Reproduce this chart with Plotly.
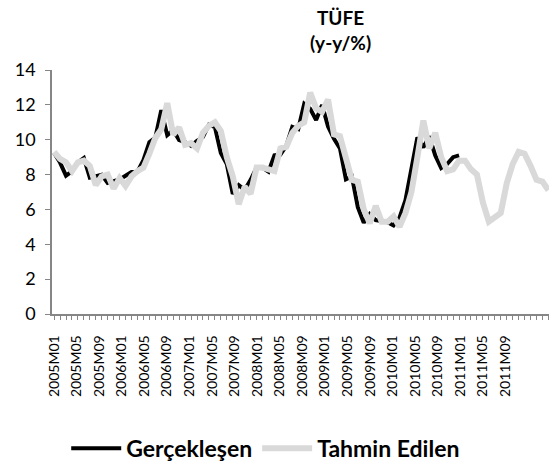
import plotly.graph_objects as go

# monthly series, 2005M01 onwards
months = [f"{y}M{m:02d}" for y in range(2005, 2012) for m in range(1, 13)]

gerceklesen = [
    9.24, 8.69, 7.94, 8.18, 8.70, 8.95, 7.82, 7.91, 7.99, 7.52, 7.61, 7.72,
    7.93, 8.15, 8.16, 8.83, 9.86, 10.12, 11.69, 10.26, 10.55, 9.98, 9.86, 9.65,
    9.93, 10.16, 10.86, 10.72, 9.23, 8.60, 6.90, 7.39, 7.12, 7.70, 8.40, 8.39,
    8.17, 9.10, 9.15, 9.66, 10.74, 10.61, 12.06, 11.77, 11.13, 11.99, 10.76, 10.06,
    9.50, 7.73, 7.89, 6.13, 5.24, 5.73, 5.39, 5.33, 5.27, 5.08, 5.53, 6.53,
    8.19, 10.13, 9.56, 10.19, 9.10, 8.37, 8.60, 9.00, 9.10,
]

tahmin = [
    9.3, 8.9, 8.7, 8.2, 8.7, 8.8, 8.5, 7.4, 7.9, 8.0, 7.2, 7.8,
    7.35, 7.9, 8.2, 8.4, 9.2, 10.1, 10.6, 12.1, 10.3, 10.7, 9.7, 9.8,
    9.5, 10.4, 10.8, 11.0, 10.5, 9.0, 7.9, 6.3, 7.3, 6.9, 8.4, 8.4,
    8.3, 8.2, 9.5, 9.6, 10.4, 10.8, 11.0, 12.7, 11.8, 11.6, 12.3, 10.3,
    10.2, 9.0, 7.7, 7.6, 6.0, 5.2, 6.2, 5.3, 5.3, 5.6, 5.0, 5.8,
    7.0, 9.0, 11.1, 9.5, 10.4, 9.0, 8.2, 8.3, 8.8, 8.8, 8.3, 8.0,
    6.4, 5.3, 5.5, 5.8, 7.5, 8.6, 9.3, 9.2, 8.5, 7.7, 7.6, 7.1,
]

tick_labels = months[0:81:4]  # 2005M01 ... 2011M09
LABEL_STEP = 3.79  # spacing of labels as drawn in the source chart

FONT = "Lato"

fig = go.Figure()

fig.add_trace(go.Scatter(
    x=list(range(len(gerceklesen))),
    y=gerceklesen,
    mode='lines',
    name='Gerçekleşen',
    line=dict(color='black', width=4),
))

fig.add_trace(go.Scatter(
    x=list(range(len(tahmin))),
    y=tahmin,
    mode='lines',
    name='Tahmin Edilen',
    line=dict(color='#d9d9d9', width=6),
))

fig.add_annotation(
    text="<b>TÜFE<br>(y-y/%)</b>",
    xref='paper', yref='paper',
    x=0.58, y=1.163,
    xanchor='center', yanchor='middle',
    showarrow=False,
    font=dict(family=FONT, size=19, color='black'),
)

fig.update_layout(
    width=549,
    height=470,
    margin=dict(l=52, r=0, t=70, b=154),
    plot_bgcolor='white',
    paper_bgcolor='white',
    font=dict(family=FONT, color='black'),
    showlegend=True,
    legend=dict(
        orientation='h',
        x=0.43, y=-0.55,
        xanchor='center', yanchor='middle',
        font=dict(family=FONT, size=23, color='black', weight='bold'),
        itemwidth=50,
        tracegroupgap=0,
    ),
    xaxis=dict(
        range=[-0.35, 83.1],
        tickmode='array',
        tickvals=[k * LABEL_STEP for k in range(len(tick_labels))],
        ticktext=tick_labels,
        tickangle=-90,
        tickfont=dict(family=FONT, size=14, color='black'),
        ticks='',
        showgrid=False,
        zeroline=False,
        showline=True,
        linecolor='#868686',
        linewidth=1.5,
        minor=dict(ticks='outside', tick0=0, dtick=1, ticklen=4,
                   tickcolor='#868686', showgrid=False),
        ticklabelstandoff=14,
        automargin=False,
    ),
    yaxis=dict(
        range=[0, 14],
        tickvals=[0, 2, 4, 6, 8, 10, 12, 14],
        tickfont=dict(family=FONT, size=18, color='black'),
        ticks='outside',
        ticklen=5,
        tickcolor='#868686',
        showgrid=False,
        zeroline=False,
        showline=True,
        linecolor='#868686',
        linewidth=1.5,
        ticklabelstandoff=6,
        automargin=False,
    ),
)

# page body has a default margin; drop it so the chart sits at the window corner
fig.write_html("out.html", config={'displayModeBar': False},
               post_script="document.body.style.margin='0';")
